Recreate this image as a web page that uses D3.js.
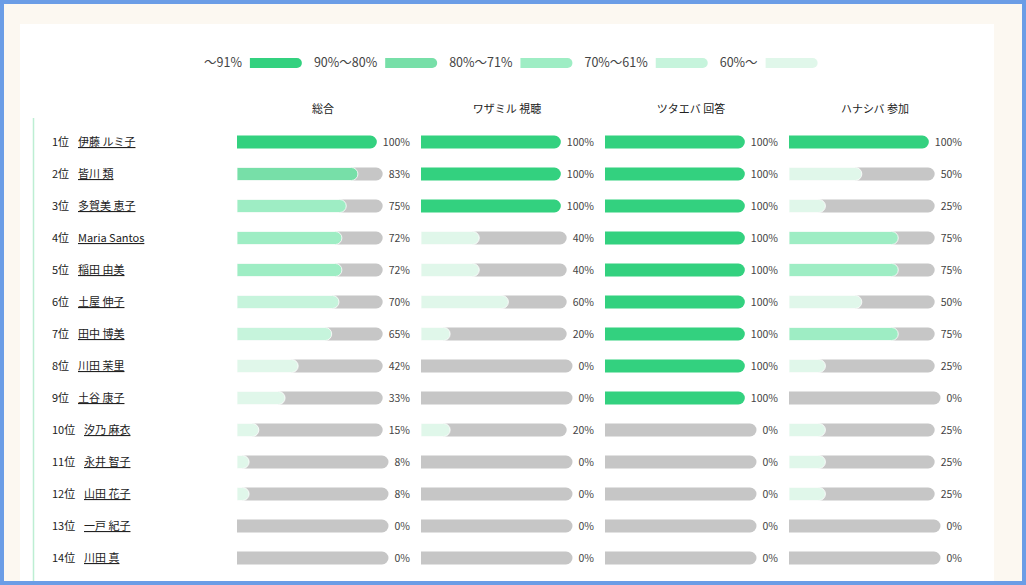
<!DOCTYPE html>
<html><head><meta charset="utf-8">
<script src="https://cdn.jsdelivr.net/npm/d3@7"></script>
<style>
body{margin:0;background:#6b9de6;}
svg{display:block;font-family:"Noto Sans CJK JP","Noto Sans",sans-serif;}
</style></head><body>
<div id="chart"></div>
<script>
var names = ["伊藤 ルミ子","皆川 類","多賀美 恵子","Maria Santos","稲田 由美","土屋 伸子","田中 博美","川田 茉里","土谷 康子","汐乃 麻衣","永井 智子","山田 花子","一戸 紀子","川田 真"];
var columns = ["総合","ワザミル 視聴","ツタエバ 回答","ハナシバ 参加"];
var sogo     = [100,83,75,72,72,70,65,42,33,15,8,8,0,0];
var wazamiru = [100,100,100,40,40,60,20,0,0,20,0,0,0,0];
var tsutaeba = [100,100,100,100,100,100,100,100,100,0,0,0,0,0];
var hanashiba= [100,50,25,75,75,50,75,25,0,25,25,25,0,0];
var legendLabels = ["〜91%","90%〜80%","80%〜71%","70%〜61%","60%〜"];
var legendColors = ["#33d17f","#77dfa8","#9eedc4","#c6f4dc","#e0f7ea"];

var series = [sogo,wazamiru,tsutaeba,hanashiba];
var W = 1026, H = 585;

var svg = d3.select("#chart").append("svg").attr("width",W).attr("height",H);
svg.append("rect").attr("x",4).attr("y",4).attr("width",W-8).attr("height",H-8).attr("fill","#fcf8f1");
svg.append("rect").attr("x",20).attr("y",24).attr("width",974).attr("height",H-28).attr("fill","#fff");
svg.append("line").attr("x1",33.5).attr("x2",33.5).attr("y1",118).attr("y2",H-4).attr("stroke","#bdeed3").attr("stroke-width",1.5);

function colorOf(v){
	if (v>=91) return legendColors[0];
	if (v>=80) return legendColors[1];
	if (v>=71) return legendColors[2];
	if (v>=61) return legendColors[3];
	return legendColors[4];
}
// rect with rounded right end only
function rightRound(x,y,w,h){
	var r = Math.min(h/2,w);
	var p = d3.path();
	p.moveTo(x,y); p.lineTo(x+w-r,y);
	p.arc(x+w-r,y+h/2,h/2,-Math.PI/2,Math.PI/2);
	p.lineTo(x,y+h); p.closePath();
	return p.toString();
}

// legend
var lg = svg.append("g").attr("font-size",12.5);
var lx = 204;
legendLabels.forEach(function(t,i){
	var tx = lg.append("text").attr("x",lx).attr("y",67).attr("fill","#444").text(t);
	var tw = tx.node().getComputedTextLength();
	lx += tw + 8;
	lg.append("path").attr("d",rightRound(lx,58,52,10)).attr("fill",legendColors[i]);
	lx += 52 + 12;
});

var y = d3.scaleBand().domain(d3.range(names.length)).range([126,574]);
var colX = d3.scaleBand().domain(d3.range(columns.length)).range([237,973]);
var barH = 13;

columns.forEach(function(c,i){
	svg.append("text").attr("x",colX(i)+86).attr("y",113).attr("text-anchor","middle")
		.attr("font-size",11).attr("fill","#222").text(c);
});

names.forEach(function(n,r){
	var cy = y(r)+y.bandwidth()/2;
	svg.append("text").attr("x",52).attr("y",cy+4).attr("font-size",11).attr("fill","#222").text((r+1)+"位");
	svg.append("text").attr("x",r>=9?84:78).attr("y",cy+4).attr("font-size",11).attr("fill","#222")
		.attr("text-decoration","underline").text(n);
	series.forEach(function(s,i){
		var v = s[r];
		var right = colX(i)+173;
		var lab = svg.append("text").attr("x",right).attr("y",cy+4).attr("text-anchor","end")
			.attr("font-size",10.5).attr("fill","#444").text(v+"%");
		var lw = lab.node().getComputedTextLength();
		var x0 = colX(i);
		var tw = right - lw - 6 - x0;
		var xs = d3.scaleLinear().domain([0,100]).range([0,tw]);
		if (v<100) svg.append("path").attr("d",rightRound(x0,cy-barH/2,tw,barH)).attr("fill","#c6c6c6");
		if (v>0) svg.append("path").attr("d",rightRound(x0,cy-barH/2,Math.max(xs(v),barH/2),barH))
			.attr("fill",colorOf(v)).attr("stroke","#fff").attr("stroke-width",v<100?0.8:0);
	});
});
</script>
</body></html>
